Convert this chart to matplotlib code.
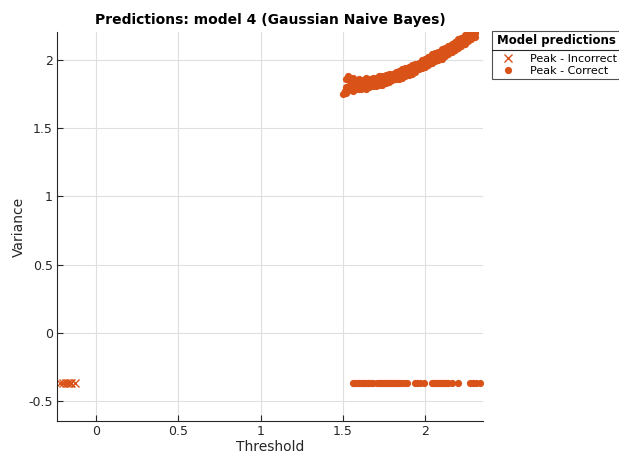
import matplotlib
matplotlib.use("Agg")
import matplotlib.pyplot as plt
from matplotlib.lines import Line2D

ORANGE = "#D95319"
AX_COLOR = "#262626"

# peak detections: threshold vs variance along the upper band
band_x = [1.52, 1.54, 1.56, 1.58, 1.60, 1.62, 1.64, 1.66, 1.68, 1.70,
          1.72, 1.74, 1.76, 1.78, 1.80, 1.82, 1.84, 1.86, 1.88, 1.90,
          1.92, 1.94, 1.96, 1.98, 2.00, 2.02, 2.04, 2.06, 2.08, 2.10,
          2.12, 2.14, 2.16, 2.18, 2.20, 2.22, 2.24, 2.26, 2.28, 2.30]
band_top = [1.86, 1.85, 1.87, 1.85, 1.86, 1.85, 1.87, 1.86, 1.87, 1.87,
            1.88, 1.88, 1.89, 1.90, 1.90, 1.91, 1.92, 1.93, 1.94, 1.95,
            1.96, 1.97, 1.98, 2.00, 2.01, 2.02, 2.04, 2.05, 2.06, 2.08,
            2.09, 2.10, 2.12, 2.13, 2.15, 2.16, 2.18, 2.19, 2.20, 2.21]
band_mid = [1.80, 1.81, 1.81, 1.82, 1.82, 1.83, 1.82, 1.83, 1.84, 1.84,
            1.85, 1.85, 1.86, 1.87, 1.88, 1.88, 1.89, 1.90, 1.91, 1.92,
            1.93, 1.94, 1.96, 1.97, 1.98, 1.99, 2.01, 2.02, 2.03, 2.05,
            2.06, 2.07, 2.09, 2.11, 2.12, 2.13, 2.15, 2.17, 2.18, 2.20]
band_low = [1.76, 1.78, 1.77, 1.79, 1.79, 1.80, 1.79, 1.80, 1.81, 1.81,
            1.82, 1.82, 1.83, 1.84, 1.85, 1.86, 1.86, 1.87, 1.88, 1.89,
            1.90, 1.91, 1.93, 1.94, 1.95, 1.96, 1.98, 1.99, 2.00, 2.01,
            2.03, 2.04, 2.06, 2.07, 2.09, 2.10, 2.12, 2.14, 2.15, 2.17]
extra_x = [1.50, 1.51, 1.53, 1.55, 1.57, 1.61, 1.67, 1.73]
extra_y = [1.75, 1.77, 1.88, 1.84, 1.83, 1.79, 1.85, 1.83]

# no-peak samples sit on a fixed variance level
low_x = [1.56, 1.57, 1.58, 1.59, 1.60, 1.61, 1.62, 1.63, 1.64, 1.65, 1.66,
         1.67, 1.68, 1.71, 1.72, 1.73, 1.74, 1.75, 1.76, 1.77, 1.78, 1.79,
         1.80, 1.81, 1.82, 1.83, 1.84, 1.85, 1.87, 1.89, 1.94, 1.95, 1.97,
         1.99, 2.04, 2.05, 2.06, 2.07, 2.08, 2.09, 2.10, 2.11, 2.12, 2.13,
         2.14, 2.16, 2.20, 2.27, 2.29, 2.31, 2.33]
low_level = -0.37

wrong_x = [-0.22, -0.20, -0.18, -0.17, -0.16, -0.15, -0.13]
wrong_y = [-0.37, -0.37, -0.37, -0.37, -0.37, -0.37, -0.37]

correct_x = band_x * 3 + extra_x + low_x
correct_y = band_top + band_mid + band_low + extra_y + [low_level] * len(low_x)

fig = plt.figure(figsize=(6.19, 4.55), dpi=100)
ax = fig.add_axes([0.092, 0.0747, 0.688, 0.855])

ax.plot(wrong_x, wrong_y, "x", color=ORANGE, markersize=6, markeredgewidth=1,
        label="Peak - Incorrect")
ax.plot(correct_x, correct_y, "o", color=ORANGE, markersize=5.2,
        markeredgewidth=0, label="Peak - Correct")

ax.set_xlim(-0.237, 2.35)
ax.set_ylim(-0.647, 2.205)
ax.set_xticks([0, 0.5, 1, 1.5, 2])
ax.set_xticklabels(["0", "0.5", "1", "1.5", "2"])
ax.set_yticks([-0.5, 0, 0.5, 1, 1.5, 2])
ax.set_yticklabels(["-0.5", "0", "0.5", "1", "1.5", "2"])
ax.grid(True, color="#DFDFDF", linewidth=0.8)
ax.set_axisbelow(True)

for side in ("top", "right"):
    ax.spines[side].set_visible(False)
for side in ("left", "bottom"):
    ax.spines[side].set_color(AX_COLOR)
    ax.spines[side].set_linewidth(0.8)
ax.tick_params(direction="in", length=4, width=0.8, colors=AX_COLOR,
               labelsize=9, pad=3)

ax.set_xlabel("Threshold", fontsize=10, color=AX_COLOR, labelpad=1)
ax.set_ylabel("Variance", fontsize=10, color=AX_COLOR, labelpad=2)
ax.set_title("Predictions: model 4 (Gaussian Naive Bayes)", fontsize=10,
             fontweight="bold", color="black", pad=6)

leg = ax.legend(loc="upper left", bbox_to_anchor=(492 / 619, 1 - 31 / 455),
                bbox_transform=fig.transFigure, fontsize=8,
                title="Model predictions", frameon=True, fancybox=False,
                borderpad=0.3, handletextpad=0.9, labelspacing=0.15,
                handlelength=2.2, borderaxespad=0)
leg.get_title().set_fontweight("bold")
leg.get_title().set_fontsize(8.5)
leg.get_frame().set_edgecolor(AX_COLOR)
leg.get_frame().set_linewidth(0.8)
leg._legend_box.sep = 5

# divider between legend title and entries
fig.canvas.draw()
lb = leg.get_window_extent()
tb = leg.get_title().get_window_extent()
y_line = (tb.y0 - 3) / fig.bbox.height
fig.add_artist(Line2D([lb.x0 / fig.bbox.width, lb.x1 / fig.bbox.width],
                      [y_line, y_line], color=AX_COLOR, linewidth=0.8))

fig.savefig("out.png", dpi=100, facecolor="white")
